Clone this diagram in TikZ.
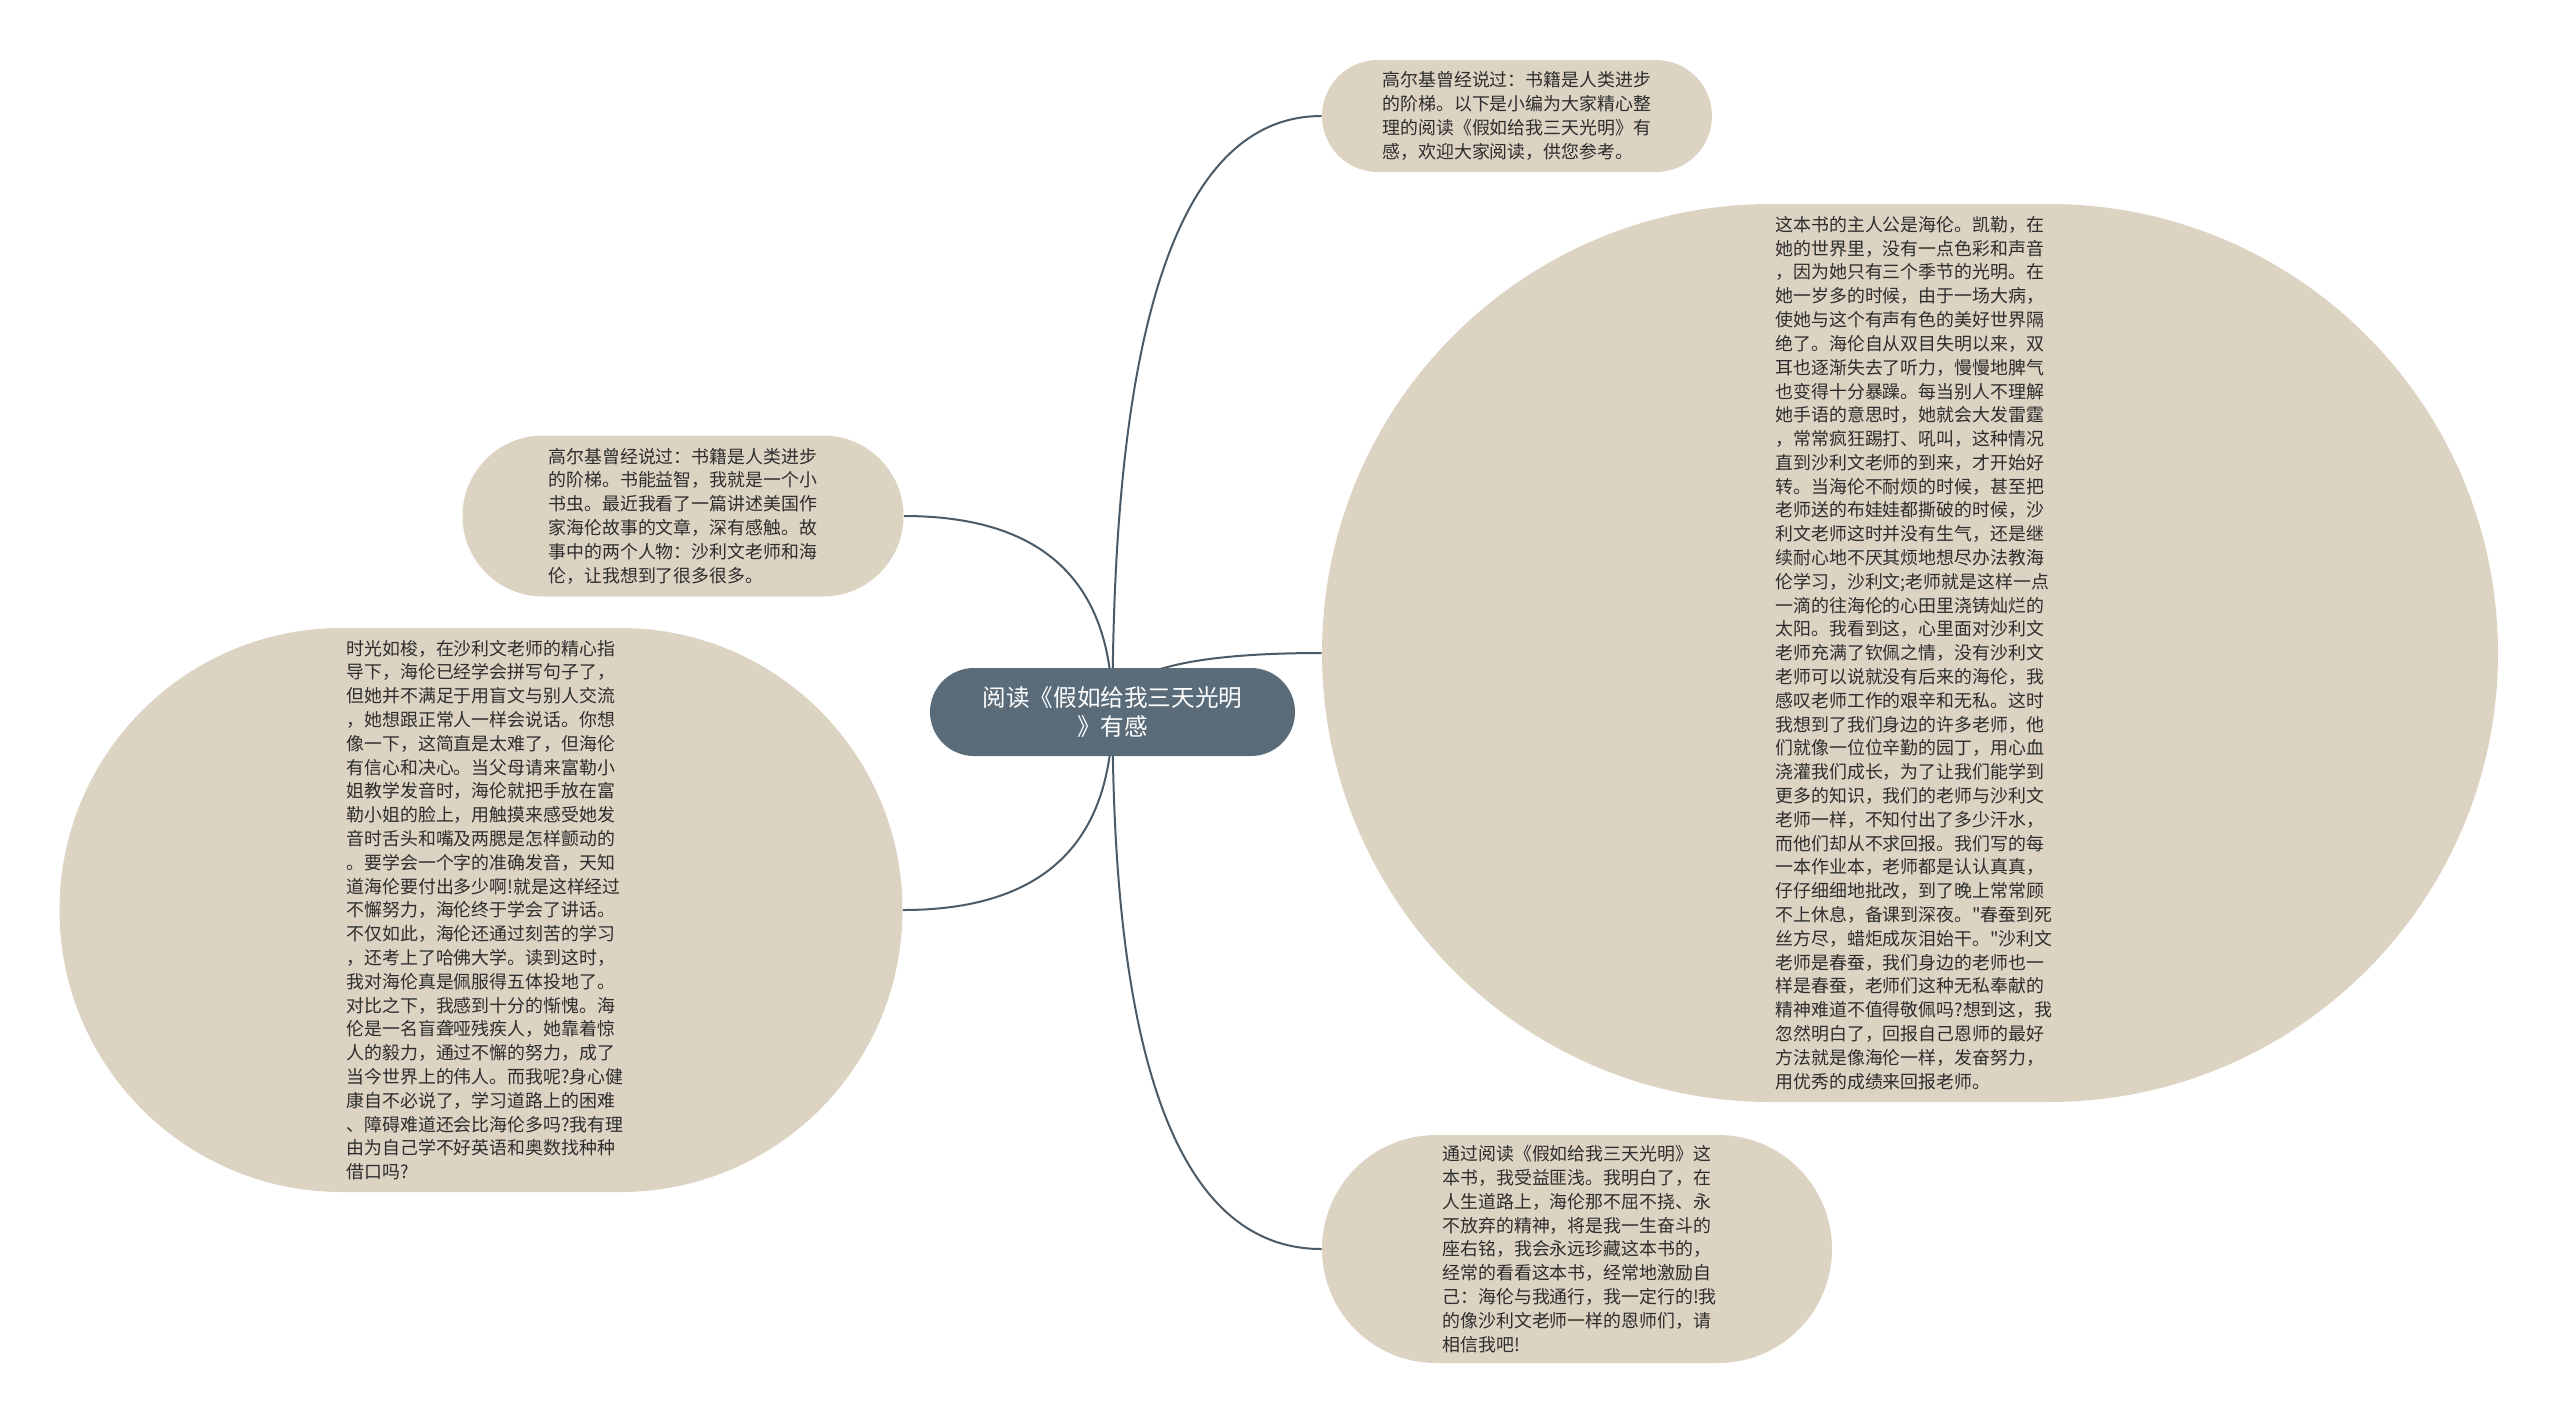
\documentclass[tikz,border=0pt]{standalone}
\usepackage{fontspec}
\newfontfamily\cjk{Noto Sans CJK SC}
\usetikzlibrary{shapes.misc,calc}
\definecolor{beige}{RGB}{221,211,195}
\definecolor{rootc}{RGB}{90,108,121}
\definecolor{linec}{RGB}{74,90,102}
\definecolor{txt}{RGB}{45,45,45}
\pgfdeclarelayer{bg}
\pgfsetlayers{bg,main}
\tikzset{
  leaf/.style={rounded rectangle, fill=beige, inner sep=0pt, text=txt, align=left,
    text width=134.5pt, font=\cjk\fontsize{8.95pt}{11.9pt}\selectfont},
  rootnode/.style={rounded rectangle, fill=rootc, inner sep=0pt, text=white, align=center,
    minimum width=182.5pt, minimum height=44pt, font=\cjk\fontsize{11.8pt}{14.5pt}\selectfont},
  conn/.style={draw=linec, line width=1pt}
}
\begin{document}
\begin{tikzpicture}[x=0.5pt,y=-0.5pt]
\useasboundingbox (0,0) rectangle (2560,1425);

\node[rootnode] (root) at (1112.5,712) {阅读《假如给我三天光明\\》有感};

\node[leaf, minimum width=195pt, minimum height=56pt] (tr) at (1517,116) {高尔基曾经说过：书籍是人类进步\\的阶梯。以下是小编为大家精心整\\理的阅读《假如给我三天光明》有\\感，欢迎大家阅读，供您参考。};

\node[leaf, minimum width=588pt, minimum height=449pt] (bigr) at (1910,653) {这本书的主人公是海伦。凯勒，在\\她的世界里，没有一点色彩和声音\\，因为她只有三个季节的光明。在\\她一岁多的时候，由于一场大病，\\使她与这个有声有色的美好世界隔\\绝了。海伦自从双目失明以来，双\\耳也逐渐失去了听力，慢慢地脾气\\也变得十分暴躁。每当别人不理解\\她手语的意思时，她就会大发雷霆\\，常常疯狂踢打、吼叫，这种情况\\直到沙利文老师的到来，才开始好\\转。当海伦不耐烦的时候，甚至把\\老师送的布娃娃都撕破的时候，沙\\利文老师这时并没有生气，还是继\\续耐心地不厌其烦地想尽办法教海\\伦学习，沙利文;老师就是这样一点\\一滴的往海伦的心田里浇铸灿烂的\\太阳。我看到这，心里面对沙利文\\老师充满了钦佩之情，没有沙利文\\老师可以说就没有后来的海伦，我\\感叹老师工作的艰辛和无私。这时\\我想到了我们身边的许多老师，他\\们就像一位位辛勤的园丁，用心血\\浇灌我们成长，为了让我们能学到\\更多的知识，我们的老师与沙利文\\老师一样，不知付出了多少汗水，\\而他们却从不求回报。我们写的每\\一本作业本，老师都是认认真真，\\仔仔细细地批改，到了晚上常常顾\\不上休息，备课到深夜。"春蚕到死\\丝方尽，蜡炬成灰泪始干。"沙利文\\老师是春蚕，我们身边的老师也一\\样是春蚕，老师们这种无私奉献的\\精神难道不值得敬佩吗?想到这，我\\忽然明白了，回报自己恩师的最好\\方法就是像海伦一样，发奋努力，\\用优秀的成绩来回报老师。};

\node[leaf, minimum width=255pt, minimum height=114pt] (br) at (1577,1249) {通过阅读《假如给我三天光明》这\\本书，我受益匪浅。我明白了，在\\人生道路上，海伦那不屈不挠、永\\不放弃的精神，将是我一生奋斗的\\座右铭，我会永远珍藏这本书的，\\经常的看看这本书，经常地激励自\\己：海伦与我通行，我一定行的!我\\的像沙利文老师一样的恩师们，请\\相信我吧!};

\node[leaf, minimum width=220.5pt, minimum height=80.5pt] (lu) at (683,516) {高尔基曾经说过：书籍是人类进步\\的阶梯。书能益智，我就是一个小\\书虫。最近我看了一篇讲述美国作\\家海伦故事的文章，深有感触。故\\事中的两个人物：沙利文老师和海\\伦，让我想到了很多很多。};

\node[leaf, minimum width=421.5pt, minimum height=282pt] (lb) at (481,910) {时光如梭，在沙利文老师的精心指\\导下，海伦已经学会拼写句子了，\\但她并不满足于用盲文与别人交流\\，她想跟正常人一样会说话。你想\\像一下，这简直是太难了，但海伦\\有信心和决心。当父母请来富勒小\\姐教学发音时，海伦就把手放在富\\勒小姐的脸上，用触摸来感受她发\\音时舌头和嘴及两腮是怎样颤动的\\。要学会一个字的准确发音，天知\\道海伦要付出多少啊!就是这样经过\\不懈努力，海伦终于学会了讲话。\\不仅如此，海伦还通过刻苦的学习\\，还考上了哈佛大学。读到这时，\\我对海伦真是佩服得五体投地了。\\对比之下，我感到十分的惭愧。海\\伦是一名盲聋哑残疾人，她靠着惊\\人的毅力，通过不懈的努力，成了\\当今世界上的伟人。而我呢?身心健\\康自不必说了，学习道路上的困难\\、障碍难道还会比海伦多吗?我有理\\由为自己学不好英语和奥数找种种\\借口吗?};

\begin{pgfonlayer}{bg}
\foreach \c/\a in {tr/west, bigr/west, br/west, lu/east, lb/east}
  \draw[conn] (root.center) .. controls ($(root.center)!0.6667!(root.center |- \c.\a)$) and ($(\c.\a)!0.6667!(root.center |- \c.\a)$) .. (\c.\a);
\end{pgfonlayer}
\end{tikzpicture}
\end{document}
